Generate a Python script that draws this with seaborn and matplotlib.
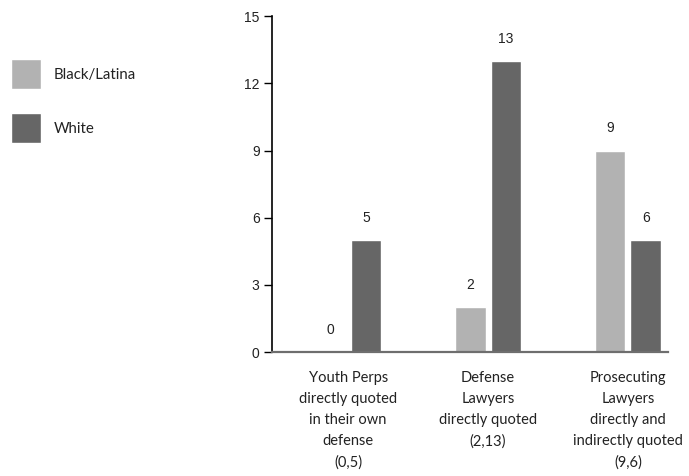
import matplotlib
matplotlib.use("Agg")
import matplotlib.pyplot as plt
import seaborn as sns
import pandas as pd

categories = [
    "Youth Perps\ndirectly quoted\nin their own\ndefense\n(0,5)",
    "Defense\nLawyers\ndirectly quoted\n(2,13)",
    "Prosecuting\nLawyers\ndirectly and\nindirectly quoted\n(9,6)",
]
series_names = ["Black/Latina", "White"]
black_values = [0, 2, 9]
white_values = [5, 13, 5]
black_labels = ["0", "2", "9"]
white_labels = ["5", "13", "6"]
y_ticks = [0, 3, 6, 9, 12, 15]
colors = ["#b2b2b2", "#666666"]

df = pd.DataFrame({
    "category": categories * 2,
    "group": [series_names[0]] * 3 + [series_names[1]] * 3,
    "value": black_values + white_values,
})

sns.set_theme(style="white")
plt.rcParams["font.family"] = ["Liberation Sans", "DejaVu Sans"]

fig = plt.figure(figsize=(6.89, 4.76), dpi=100)
ax = fig.add_axes([0.395, 0.2605, 0.5745, 0.7055])

sns.barplot(data=df, x="category", y="value", hue="group", palette=colors,
            width=0.51, gap=0.14, ax=ax, legend=True, saturation=1)

for cont, labs in zip(ax.containers, [black_labels, white_labels]):
    ax.bar_label(cont, labels=labs, padding=11, fontsize=10, color="#222222")

ax.set_ylim(0, 15)
ax.set_xlim(-0.543, 2.286)
ax.set_yticks(y_ticks)
ax.set_xlabel("")
ax.set_ylabel("")
ax.tick_params(axis="y", left=True, length=6, width=1, color="black",
               labelsize=10, labelcolor="#222222", pad=3)
ax.tick_params(axis="x", bottom=False, pad=8)
for lab in ax.get_xticklabels():
    lab.set_fontfamily(["Lato", "DejaVu Sans"])
    lab.set_fontsize(10.5)
    lab.set_linespacing(1.62)
    lab.set_color("#222222")

for s in ["top", "right"]:
    ax.spines[s].set_visible(False)
ax.spines["left"].set_color("black")
ax.spines["left"].set_linewidth(1.2)
ax.spines["bottom"].set_color("#6e6e6e")
ax.spines["bottom"].set_linewidth(1.6)

handles, labels = ax.get_legend_handles_labels()
ax.get_legend().remove()
fig.legend(handles, labels, loc="upper left",
           bbox_to_anchor=(11 / 689, 1 - 59 / 476), frameon=False,
           borderpad=0, borderaxespad=0, handlelength=2.0, handleheight=2.75,
           handletextpad=0.85, labelspacing=1.56,
           prop={"family": ["Lato", "DejaVu Sans"], "size": 10.8},
           labelcolor="#222222")

fig.savefig("out.png", dpi=100)
